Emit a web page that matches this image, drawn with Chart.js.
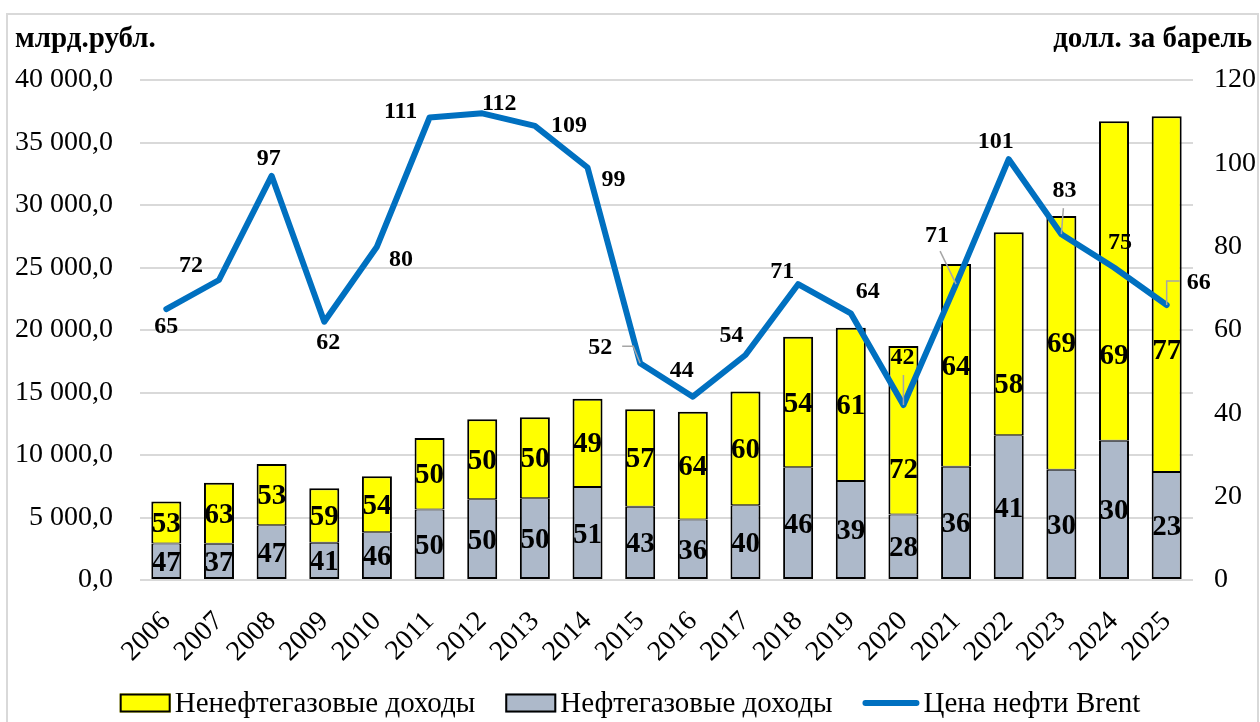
<!DOCTYPE html>
<html>
<head>
<meta charset="utf-8">
<script src="https://cdn.jsdelivr.net/npm/chart.js@4.4.1/dist/chart.umd.min.js"></script>
<style>
  html, body { margin: 0; padding: 0; background: #ffffff; }
  #wrap { position: relative; width: 1260px; height: 722px; }
</style>
</head>
<body>
<div id="wrap"><canvas id="c" width="1260" height="722"></canvas></div>
<script>
// ---- data ----
const years = ['2006','2007','2008','2009','2010','2011','2012','2013','2014','2015','2016','2017','2018','2019','2020','2021','2022','2023','2024','2025'];
const oilGasRevenue = [2928, 2897, 4389, 2984, 3830, 5642, 6453, 6534, 7434, 5863, 4844, 5972, 9018, 7924, 5235, 9057, 11586, 8822, 11132, 8650];
const nonOilGasRevenue = [3351, 4884, 4887, 4354, 4475, 5726, 6402, 6486, 7063, 7796, 8616, 9117, 10436, 12264, 13484, 16230, 16238, 20303, 25577, 28450];
const oilGasShare = [47, 37, 47, 41, 46, 50, 50, 50, 51, 43, 36, 40, 46, 39, 28, 36, 41, 30, 30, 23];
const nonOilGasShare = [53, 63, 53, 59, 54, 50, 50, 50, 49, 57, 64, 60, 54, 61, 72, 64, 58, 69, 69, 77];
const brentPrice = [65, 72, 97, 62, 80, 111, 112, 109, 99, 52, 44, 54, 71, 64, 42, 71, 101, 83, 75, 66];
const leftTicks = [0, 5000, 10000, 15000, 20000, 25000, 30000, 35000, 40000];
const rightTicks = [0, 20, 40, 60, 80, 100, 120];

// ---- label placement (style only) ----
const nonOilLabelNudge = [0,0,0,0,0,0,0,0,0,0,0,0,0,0,38,0,50,0,74,55];
const brentLabelOffset = [[0,18],[-28,-14],[-3,-17],[4,21],[24,13],[-29,-6],[17,-10],[34,0],[26,12],[-40,-16],[-11,-26],[-14,-19],[-16,-12],[17,-22],[-1,-47],[-19,-48],[-13,-17],[3,-43],[6,-25],[32,-22]];
const brentLeaders = {9: [[-7,-17],[-18,-17]], 14: [[0,-30]], 15: [[-16,-33]], 17: [[2,-26]], 19: [[0,-24],[13,-24]]};

const SERIF = '"Liberation Serif", "Times New Roman", serif';
const YELLOW = '#FFFF00', GREY = '#ADB9CA', BLUE = '#0070C0', GRID = '#D9D9D9';

function fmtRub(v) {
  const s = Math.round(v).toString().replace(/\B(?=(\d{3})+(?!\d))/g, ' ');
  return s + ',0';
}

const decorPlugin = {
  id: 'decor',
  beforeDraw(chart) {
    const ctx = chart.ctx;
    ctx.save();
    ctx.fillStyle = '#ffffff';
    ctx.fillRect(0, 0, chart.width, chart.height);
    ctx.strokeStyle = GRID;
    ctx.lineWidth = 2;
    ctx.strokeRect(7, 14, 1251, 712);
    ctx.fillStyle = '#000';
    ctx.font = 'bold 29px ' + SERIF;
    ctx.textBaseline = 'alphabetic';
    ctx.textAlign = 'left';
    ctx.fillText('млрд.рубл.', 15, 47);
    ctx.textAlign = 'right';
    ctx.fillText('долл. за барель', 1252, 47);
    ctx.restore();
  },
  afterDatasetsDraw(chart) {
    const ctx = chart.ctx;
    ctx.save();
    // bar share labels
    ctx.font = 'bold 29px ' + SERIF;
    ctx.fillStyle = '#000';
    ctx.textAlign = 'center';
    ctx.textBaseline = 'middle';
    const shareSets = [oilGasShare, nonOilGasShare];
    [0, 1].forEach(di => {
      const meta = chart.getDatasetMeta(di);
      meta.data.forEach((el, i) => {
        const nudge = di === 1 ? nonOilLabelNudge[i] : 0;
        const y = (el.y + el.base) / 2 + 2 + nudge;
        ctx.fillText(String(shareSets[di][i]), el.x, y);
      });
    });
    // brent leaders + labels
    const lmeta = chart.getDatasetMeta(2);
    ctx.strokeStyle = '#A6A6A6';
    ctx.lineWidth = 1.5;
    Object.keys(brentLeaders).forEach(k => {
      const el = lmeta.data[+k];
      ctx.beginPath();
      ctx.moveTo(el.x, el.y);
      brentLeaders[k].forEach(p => ctx.lineTo(el.x + p[0], el.y + p[1]));
      ctx.stroke();
    });
    ctx.font = 'bold 24px ' + SERIF;
    lmeta.data.forEach((el, i) => {
      const o = brentLabelOffset[i];
      ctx.fillText(String(brentPrice[i]), el.x + o[0], el.y + o[1]);
    });
    ctx.restore();
  },
  afterDraw(chart) {
    // legend
    const ctx = chart.ctx;
    ctx.save();
    ctx.font = '29px ' + SERIF;
    const items = [
      {text: 'Ненефтегазовые доходы', type: 'box', color: YELLOW},
      {text: 'Нефтегазовые доходы', type: 'box', color: GREY},
      {text: 'Цена нефти Brent', type: 'line', color: BLUE}
    ];
    const boxW = 51, lineW = 57, gapIn = 4, gapOut = 30;
    let total = 0;
    items.forEach((it, i) => {
      it.w = (it.type === 'box' ? boxW : lineW) + gapIn + ctx.measureText(it.text).width;
      total += it.w + (i ? gapOut : 0);
    });
    let x = 630 - total / 2;
    const cy = 703;
    items.forEach(it => {
      if (it.type === 'box') {
        ctx.fillStyle = it.color;
        ctx.fillRect(x, cy - 9.5, boxW, 19);
        ctx.strokeStyle = '#000';
        ctx.lineWidth = 2;
        ctx.strokeRect(x + 1, cy - 8.5, boxW - 2, 17);
        x += boxW;
      } else {
        ctx.strokeStyle = it.color;
        ctx.lineWidth = 6;
        ctx.lineCap = 'round';
        ctx.beginPath();
        ctx.moveTo(x + 3, cy);
        ctx.lineTo(x + lineW - 3, cy);
        ctx.stroke();
        x += lineW;
      }
      x += gapIn;
      ctx.fillStyle = '#000';
      ctx.textAlign = 'left';
      ctx.textBaseline = 'middle';
      ctx.fillText(it.text, x, cy + 1);
      x += ctx.measureText(it.text).width + gapOut;
    });
    ctx.restore();
  }
};

new Chart(document.getElementById('c'), {
  data: {
    labels: years,
    datasets: [
      {
        type: 'bar', label: 'Нефтегазовые доходы', data: oilGasRevenue,
        backgroundColor: GREY, borderColor: '#000',
        borderWidth: { top: 1, left: 2, right: 2, bottom: 2 }, borderSkipped: false,
        yAxisID: 'y', stack: 's', order: 2, barPercentage: 0.57, categoryPercentage: 1
      },
      {
        type: 'bar', label: 'Ненефтегазовые доходы', data: nonOilGasRevenue,
        backgroundColor: YELLOW, borderColor: '#000',
        borderWidth: { top: 2, left: 2, right: 2, bottom: 1 }, borderSkipped: false,
        yAxisID: 'y', stack: 's', order: 2, barPercentage: 0.57, categoryPercentage: 1
      },
      {
        type: 'line', label: 'Цена нефти Brent', data: brentPrice,
        borderColor: BLUE, borderWidth: 6, pointRadius: 0, tension: 0,
        borderJoinStyle: 'round', borderCapStyle: 'round',
        yAxisID: 'y1', order: 1
      }
    ]
  },
  options: {
    responsive: false,
    animation: false,
    devicePixelRatio: 1,
    layout: { padding: { left: 7, right: 0, top: 80, bottom: 38 } },
    plugins: { legend: { display: false }, tooltip: { enabled: false } },
    scales: {
      x: {
        stacked: true,
        grid: { display: false },
        border: { display: false },
        ticks: { maxRotation: 45, minRotation: 45, color: '#000', font: { family: SERIF, size: 28 }, padding: 17 },
        afterFit(s) { s.height = 104; }
      },
      y: {
        stacked: true, position: 'left', min: 0, max: 40000,
        afterBuildTicks(s) { s.ticks = leftTicks.map(v => ({ value: v })); },
        grid: { color: GRID, lineWidth: 2, drawTicks: false },
        border: { display: false },
        ticks: { color: '#000', font: { family: SERIF, size: 28 }, padding: 27, callback: v => fmtRub(v) },
        afterFit(s) { s.width = 133; }
      },
      y1: {
        position: 'right', min: 0, max: 120,
        afterBuildTicks(s) { s.ticks = rightTicks.map(v => ({ value: v })); },
        grid: { drawOnChartArea: false, drawTicks: false },
        border: { display: false },
        ticks: { color: '#000', font: { family: SERIF, size: 28 }, padding: 21 },
        afterFit(s) { s.width = 67; }
      }
    }
  },
  plugins: [decorPlugin]
});
</script>
</body>
</html>
